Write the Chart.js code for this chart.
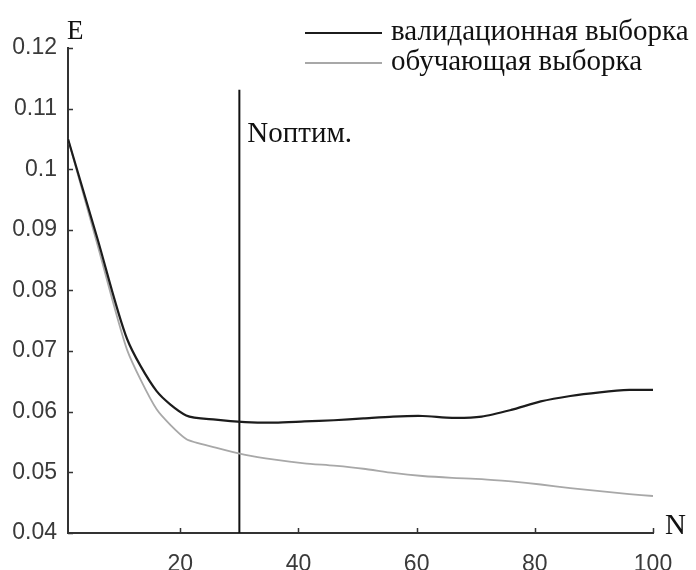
<!DOCTYPE html>
<html>
<head>
<meta charset="utf-8">
<script src="https://cdn.jsdelivr.net/npm/chart.js@4.4.1/dist/chart.umd.min.js"></script>
<style>
  html, body { margin: 0; padding: 0; background: #fff; }
  #wrap { width: 696px; height: 570px; }
</style>
</head>
<body>
<div id="wrap"><canvas id="errChart" width="696" height="570"></canvas></div>
<script>
// N values (number of iterations / neurons)
const nValues = [1, 6, 11, 16, 21, 26, 31, 36, 41, 46, 51, 56, 61, 66, 71, 76, 81, 86, 91, 96, 100];
// validation error
const valErr = [0.105, 0.0885, 0.072, 0.0634, 0.0594, 0.0587, 0.0583, 0.0582, 0.0584, 0.0586, 0.0589,
                0.0592, 0.0593, 0.0590, 0.0592, 0.0603, 0.0617, 0.0626, 0.0632, 0.0636, 0.0636];
// training error
const trainErr = [0.105, 0.0875, 0.0702, 0.0604, 0.0555, 0.0541, 0.0529, 0.0521, 0.0515, 0.0511, 0.0506,
                  0.0499, 0.0494, 0.0491, 0.0489, 0.0485, 0.0480, 0.0474, 0.0469, 0.0464, 0.0461];
const nOptimal = 30;
const optLineRange = [0.04, 0.1131];
const xTicks = [20, 40, 60, 80, 100];
const yTicks = [0.04, 0.05, 0.06, 0.07, 0.08, 0.09, 0.10, 0.11, 0.12];
const seriesNames = ['валидационная выборка', 'обучающая выборка'];

const toPoints = (xs, ys) => xs.map((x, i) => ({ x: x, y: ys[i] }));

// ticks drawn inward, legend and axis letters
const extrasPlugin = {
  id: 'extras',
  afterDatasetsDraw(chart) {
    const ctx = chart.ctx;
    const xs = chart.scales.x, ys = chart.scales.y;
    const area = chart.chartArea;
    ctx.save();
    ctx.strokeStyle = '#333';
    ctx.lineWidth = 1.5;
    ctx.beginPath();
    yTicks.forEach(v => {
      const py = Math.round(ys.getPixelForValue(v)) + 0.5;
      ctx.moveTo(area.left, py);
      ctx.lineTo(area.left + 5, py);
    });
    xTicks.forEach(v => {
      const px = Math.round(xs.getPixelForValue(v)) + 0.5;
      ctx.moveTo(px, area.bottom);
      ctx.lineTo(px, area.bottom - 5);
    });
    ctx.stroke();

    // legend
    ctx.font = '29px "Liberation Serif", serif';
    ctx.textBaseline = 'alphabetic';
    ctx.textAlign = 'left';
    const legendY = [33, 63];
    [0, 1].forEach(i => {
      const ds = chart.data.datasets[i];
      ctx.strokeStyle = ds.borderColor;
      ctx.lineWidth = ds.borderWidth;
      ctx.beginPath();
      ctx.moveTo(305, legendY[i]);
      ctx.lineTo(382, legendY[i]);
      ctx.stroke();
      ctx.fillStyle = '#111';
      ctx.fillText(ds.label, 391, legendY[i] + 7);
    });

    // axis letters and marker label
    ctx.fillStyle = '#111';
    ctx.font = '27px "Liberation Serif", serif';
    ctx.fillText('E', area.left - 1, 39);
    ctx.font = '29px "Liberation Serif", serif';
    ctx.fillText('N', area.right + 12, area.bottom + 1);
    ctx.font = '29px "Liberation Serif", serif';
    ctx.fillText('Nоптим.', xs.getPixelForValue(nOptimal) + 8, 142);
    ctx.restore();
  }
};

const ctx = document.getElementById('errChart').getContext('2d');
const errChart = new Chart(ctx, {
  type: 'line',
  data: {
    datasets: [{
      label: seriesNames[0],
      data: toPoints(nValues, valErr),
      borderColor: '#1c1c1c',
      borderWidth: 2.2,
      pointRadius: 0,
      tension: 0.25
    }, {
      label: seriesNames[1],
      data: toPoints(nValues, trainErr),
      borderColor: '#a8a8a8',
      borderWidth: 1.8,
      pointRadius: 0,
      tension: 0.2
    }, {
      label: 'Nоптим.',
      data: [{ x: nOptimal, y: optLineRange[0] }, { x: nOptimal, y: optLineRange[1] }],
      borderColor: '#111',
      borderWidth: 2,
      pointRadius: 0
    }]
  },
  options: {
    responsive: false,
    animation: false,
    layout: { padding: { top: 48, right: 43, left: 0, bottom: 0 } },
    plugins: {
      legend: { display: false },
      tooltip: { enabled: false }
    },
    scales: {
      x: {
        type: 'linear',
        min: 1,
        max: 100,
        grid: { display: false },
        border: { display: true, color: '#333', width: 2 },
        afterBuildTicks: s => { s.ticks = xTicks.map(v => ({ value: v })); },
        afterFit: s => { s.height = 37; },
        ticks: {
          padding: 10,
          color: '#3a3a3a',
          font: { family: '"Liberation Sans", Arial, sans-serif', size: 23 },
          maxRotation: 0
        }
      },
      y: {
        min: 0.04,
        max: 0.12,
        grid: { display: false },
        border: { display: true, color: '#333', width: 2 },
        afterBuildTicks: s => { s.ticks = yTicks.map(v => ({ value: v })); },
        afterFit: s => { s.width = 68; },
        ticks: {
          padding: 3,
          color: '#3a3a3a',
          font: { family: '"Liberation Sans", Arial, sans-serif', size: 23 },
          callback: v => String(+v.toFixed(2))
        }
      }
    }
  },
  plugins: [extrasPlugin]
});
</script>
</body>
</html>
